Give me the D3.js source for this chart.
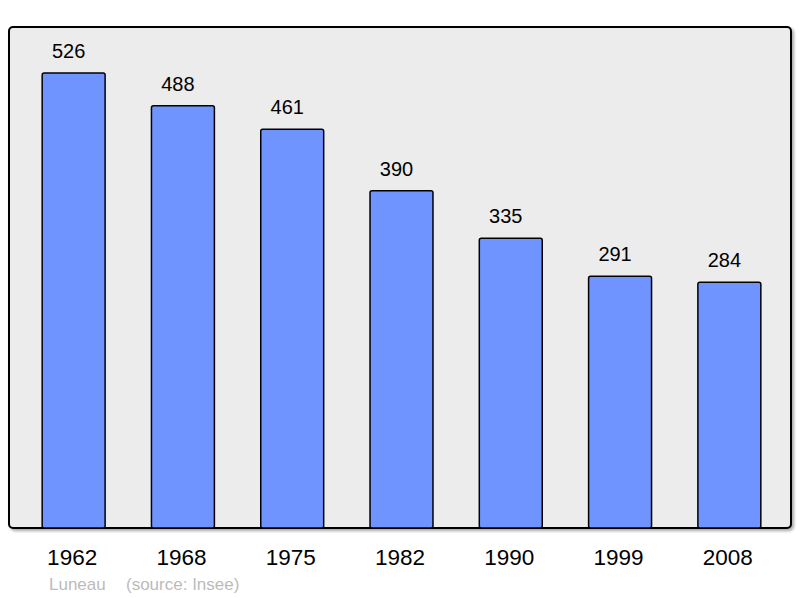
<!DOCTYPE html>
<html>
<head>
<meta charset="utf-8">
<script src="https://cdn.jsdelivr.net/npm/d3@7"></script>
<style>
  body { margin: 0; background: #fff; }
  text { font-family: "Liberation Sans", Arial, sans-serif; }
</style>
</head>
<body>
<svg width="800" height="598"></svg>
<script>
const years = ["1962", "1968", "1975", "1982", "1990", "1999", "2008"];
const population = [526, 488, 461, 390, 335, 291, 284];
const place = "Luneau";
const source = "(source: Insee)";

const svg = d3.select("svg");

const frame = { x: 9, y: 27, w: 782, h: 501 };

const defs = svg.append("defs");
const filter = defs.append("filter").attr("id", "shadow").attr("x", "-5%").attr("y", "-5%").attr("width", "110%").attr("height", "110%");
filter.append("feGaussianBlur").attr("in", "SourceAlpha").attr("stdDeviation", 1.5);
filter.append("feOffset").attr("dx", 2).attr("dy", 2).attr("result", "b");
filter.append("feComponentTransfer").append("feFuncA").attr("type", "linear").attr("slope", 0.35);
const merge = filter.append("feMerge");
merge.append("feMergeNode");
merge.append("feMergeNode").attr("in", "SourceGraphic");

svg.append("rect")
  .attr("x", frame.x).attr("y", frame.y)
  .attr("width", frame.w).attr("height", frame.h)
  .attr("rx", 4)
  .attr("fill", "#ececec")
  .attr("stroke", "#000")
  .attr("stroke-width", 2)
  .attr("filter", "url(#shadow)");

const x = d3.scaleBand()
  .domain(years)
  .range([19, 784])
  .paddingInner(0.424)
  .paddingOuter(0.212);

const y = d3.scaleLinear()
  .domain([0, 526])
  .range([frame.y + frame.h, 73]);

svg.selectAll(".bar")
  .data(years)
  .enter()
  .append("rect")
  .attr("class", "bar")
  .attr("x", (d) => x(d))
  .attr("y", (d, i) => y(population[i]))
  .attr("width", x.bandwidth())
  .attr("height", (d, i) => y(0) - y(population[i]))
  .attr("rx", 2)
  .attr("fill", "#7094ff")
  .attr("stroke", "#000")
  .attr("stroke-width", 1.5);

// value labels sit a little left of the bar centre, as in the original
svg.selectAll(".val")
  .data(years)
  .enter()
  .append("text")
  .attr("class", "val")
  .attr("x", (d) => x(d) + x.bandwidth() / 2 - 5)
  .attr("y", (d, i) => y(population[i]) - 15)
  .attr("text-anchor", "middle")
  .attr("font-size", 20)
  .attr("fill", "#000")
  .text((d, i) => population[i]);

// years under the frame
const xAxis = d3.axisBottom(x).tickSize(0).tickPadding(0);
const gx = svg.append("g")
  .attr("transform", `translate(-1.5, ${frame.y + frame.h})`)
  .call(xAxis);
gx.select(".domain").remove();
gx.selectAll("text")
  .attr("dy", null)
  .attr("y", 37)
  .attr("font-size", 22.5)
  .attr("font-family", "Liberation Sans, Arial, sans-serif")
  .attr("fill", "#000");

svg.append("text")
  .attr("x", 49).attr("y", 590)
  .attr("font-size", 17)
  .attr("fill", "#bbb")
  .text(place);

svg.append("text")
  .attr("x", 126).attr("y", 590)
  .attr("font-size", 17)
  .attr("fill", "#bbb")
  .text(source);
</script>
</body>
</html>
